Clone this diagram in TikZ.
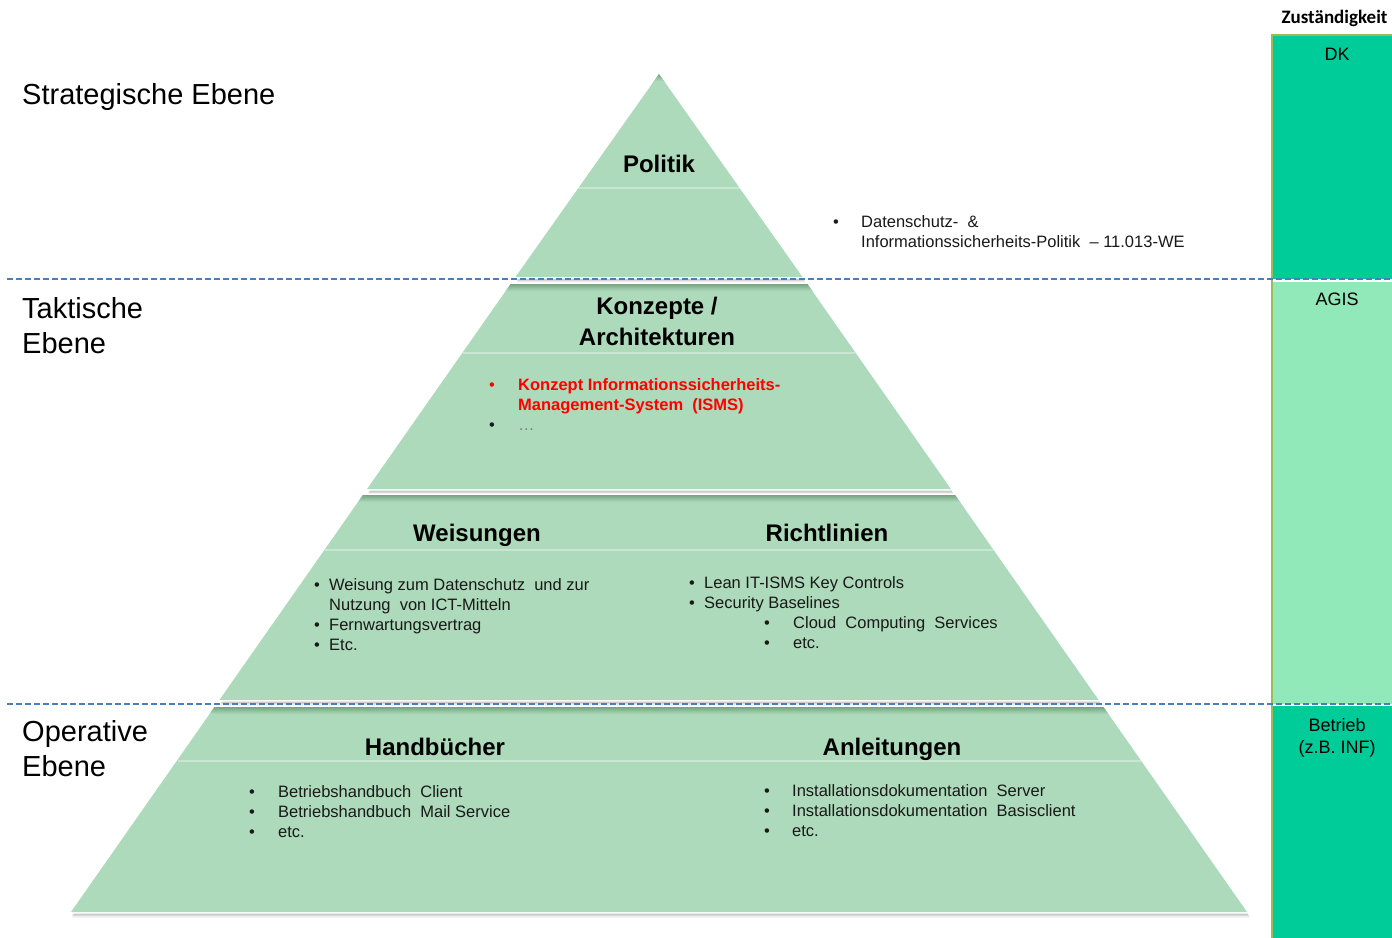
\documentclass[tikz,border=0pt]{standalone}
\usepackage{fontspec}
\setmainfont{Liberation Sans}
\newfontfamily\carlitofont{Carlito}
\definecolor{pyr}{RGB}{173,218,186}
\definecolor{pyrdark}{RGB}{118,165,132}
\definecolor{dashblue}{RGB}{74,126,187}
\definecolor{colA}{RGB}{0,204,153}
\definecolor{colB}{RGB}{145,232,184}
\definecolor{colborder}{RGB}{155,187,89}
\definecolor{txt}{RGB}{25,25,25}
\newcommand\pyrlayer[6]{%
  \fill[black,opacity=0.07] (#1+2,#3+5) -- (#2+2,#3+5) -- (#5+3,#6+5.5) -- (#4+1,#6+5.5) -- cycle;
  \fill[black,opacity=0.14] (#1+1,#3+3) -- (#2+1.5,#3+3) -- (#5+2,#6+3.5) -- (#4+1,#6+3.5) -- cycle;
  \draw[white,line width=3pt,line join=round] (#1,#3) -- (#2,#3) -- (#5,#6) -- (#4,#6) -- cycle;
  \begin{scope}
    \clip (#1,#3) -- (#2,#3) -- (#5,#6) -- (#4,#6) -- cycle;
    \fill[pyr] (#4-5,#3-5) rectangle (#5+5,#6+5);
    \shade[top color=pyrdark,bottom color=pyr] (#4-5,#3) rectangle (#5+5,#3+7);
  \end{scope}
}
\tikzset{
  body/.style={inner sep=0pt, anchor=base west, text=txt, font=\fontsize{16.5}{20}\selectfont},
  bodyred/.style={inner sep=0pt, anchor=base west, text=red, font=\fontsize{16.5}{20}\selectfont\bfseries},
  ttl/.style={inner sep=0pt, anchor=base, text=black, font=\fontsize{24}{28}\selectfont\bfseries},
  lvl/.style={inner sep=0pt, anchor=base west, text=black, font=\fontsize{29}{34}\selectfont},
  coltxt/.style={inner sep=0pt, anchor=base, text=black, font=\fontsize{18}{21}\selectfont},
  sepline/.style={dashblue, line width=1.6pt, dash pattern=on 6pt off 3pt},
  innerline/.style={white, opacity=0.35, line width=2pt},
}
\begin{document}
\begin{tikzpicture}[x=1pt,y=-1pt]
\clip (0,0) rectangle (1392,937);
\fill[white] (0,0) rectangle (1392,937);

% responsibility column
\fill[colA] (1272,35) rectangle (1400,279);
\fill[colB] (1272,282) rectangle (1400,704);
\fill[colA] (1272,706) rectangle (1400,945);
\draw[colborder,line width=1.2pt] (1400,35) -- (1272,35) -- (1272,945);

% pyramid layers
\pyrlayer{659}{659}{74}{515.5}{802.5}{277}
\pyrlayer{510.6}{807.4}{284}{367.1}{950.9}{489}
\pyrlayer{362.9}{955.1}{495}{219.4}{1098.6}{700}
\pyrlayer{214.5}{1103.5}{707}{71}{1247}{912}

\draw[innerline] (578.5,188) -- (739.5,188);
\draw[innerline] (463,353) -- (855,353);
\draw[innerline] (325,550) -- (993,550);
\draw[innerline] (177.5,761) -- (1140.5,761);

% dashed separators
\coordinate (s1l) at (7,279);
\coordinate (s1r) at (1392,279);
\coordinate (s2l) at (7,704);
\coordinate (s2r) at (1392,704);
\draw[sepline] (s1l) -- (s1r);
\draw[sepline] (s2l) -- (s2r);

% level labels
\node[lvl] (strat) at (22,104) {Strategische Ebene};
\node[lvl] (takt1) at (22,318) {Taktische};
\node[lvl] (takt2) at (22,353) {Ebene};
\node[lvl] (oper1) at (22,741) {Operative};
\node[lvl] (oper2) at (22,776) {Ebene};

% column labels
\node[inner sep=0pt, anchor=base, font=\carlitofont\fontsize{19}{22}\selectfont\bfseries] (zust) at (1334.5,23) {Zuständigkeit};
\node[coltxt] (dk) at (1337,60) {DK};
\node[coltxt] (agis) at (1337,305) {AGIS};
\node[coltxt] (betr1) at (1337,731) {Betrieb};
\node[coltxt] (betr2) at (1337,753) {(z.B. INF)};

% titles
\node[ttl] (politik) at (659,172) {Politik};
\node[ttl] (konz1) at (657,314) {Konzepte /};
\node[ttl] (konz2) at (657,345) {Architekturen};
\node[ttl] (weis) at (477,541) {Weisungen};
\node[ttl] (richt) at (827,541) {Richtlinien};
\node[ttl] (handb) at (435,755) {Handbücher};
\node[ttl] (anleit) at (892,755) {Anleitungen};

% Politik text
\node[body] (pb1) at (833,227) {•};
\node[body] (pt1) at (861,227) {Datenschutz-\ \ \&};
\node[body] (pt2) at (861,247) {Informationssicherheits-Politik\ \ –\ 11.013-WE};

% Konzepte text
\node[body,text=red] (kb1) at (489,390) {•};
\node[bodyred] (kt1) at (518,390) {Konzept Informationssicherheits-};
\node[bodyred] (kt2) at (518,410) {Management-System\ \ (ISMS)};
\node[body] (kb2) at (489,430) {•};
\node[body,text=gray] (kt3) at (518,430) {…};

% Weisungen text
\node[body] (wb1) at (314,590) {•};
\node[body] (wt1) at (329,590) {Weisung zum Datenschutz\ \ und zur};
\node[body] (wt2) at (329,610) {Nutzung\ \ von ICT-Mitteln};
\node[body] (wb3) at (314,630) {•};
\node[body] (wt3) at (329,630) {Fernwartungsvertrag};
\node[body] (wb4) at (314,650) {•};
\node[body] (wt4) at (329,650) {Etc.};

% Richtlinien text
\node[body] (rb1) at (689,588) {•};
\node[body] (rt1) at (704,588) {Lean IT-ISMS Key Controls};
\node[body] (rb2) at (689,608) {•};
\node[body] (rt2) at (704,608) {Security Baselines};
\node[body] (rb3) at (764,628) {•};
\node[body] (rt3) at (793,628) {Cloud\ \ Computing\ \ Services};
\node[body] (rb4) at (764,648) {•};
\node[body] (rt4) at (793,648) {etc.};

% Handbuecher text
\node[body] (hb1) at (249,797) {•};
\node[body] (ht1) at (278,797) {Betriebshandbuch\ \ Client};
\node[body] (hb2) at (249,817) {•};
\node[body] (ht2) at (278,817) {Betriebshandbuch\ \ Mail Service};
\node[body] (hb3) at (249,837) {•};
\node[body] (ht3) at (278,837) {etc.};

% Anleitungen text
\node[body] (ab1) at (764,796) {•};
\node[body] (at1) at (792,796) {Installationsdokumentation\ \ Server};
\node[body] (ab2) at (764,816) {•};
\node[body] (at2) at (792,816) {Installationsdokumentation\ \ Basisclient};
\node[body] (ab3) at (764,836) {•};
\node[body] (at3) at (792,836) {etc.};
\end{tikzpicture}
\end{document}
